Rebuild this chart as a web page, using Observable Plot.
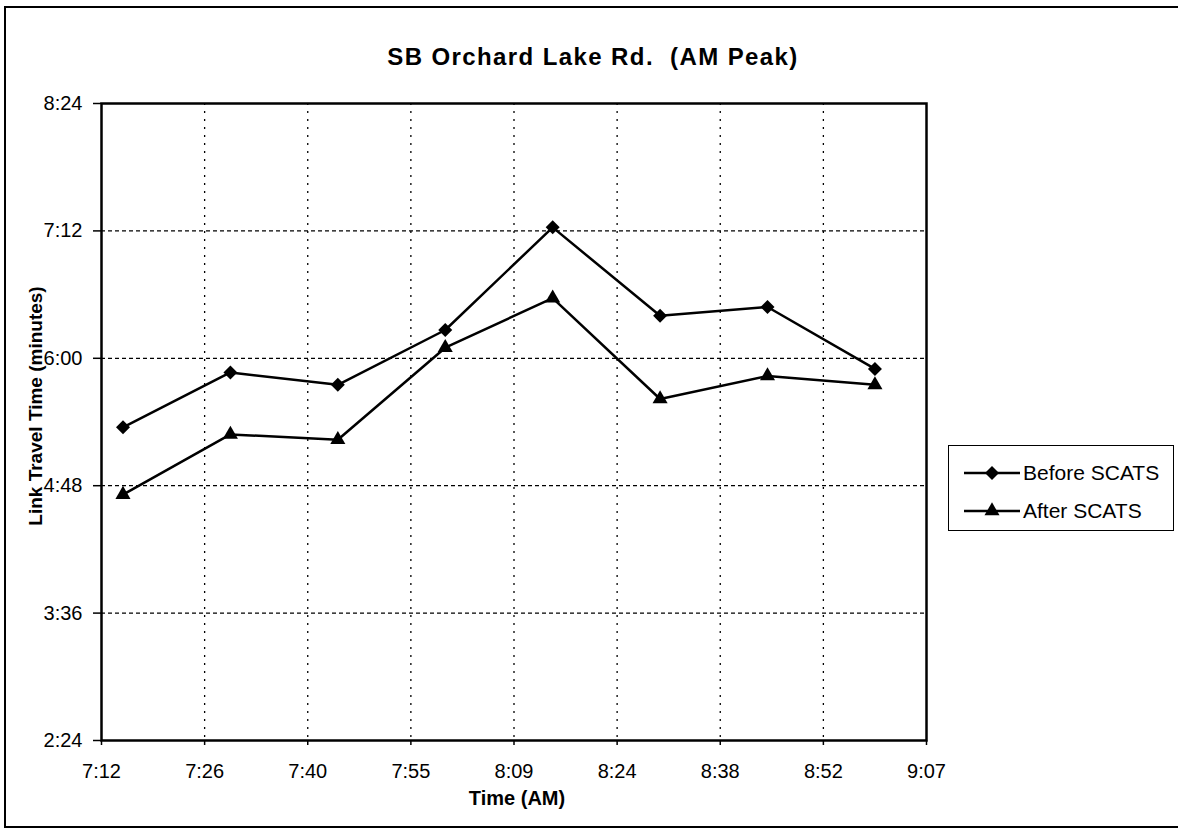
<!DOCTYPE html>
<html><head><meta charset="utf-8">
<script src="https://cdn.jsdelivr.net/npm/d3@7"></script>
<script src="https://cdn.jsdelivr.net/npm/@observablehq/plot@0.6"></script>
<style>
body{margin:0;background:#fff;overflow:hidden;font-family:Arial,"Liberation Sans",sans-serif;color:#000}
#wrap{position:relative;width:1178px;height:829px;overflow:hidden}
#border{position:absolute;left:4px;top:6px;width:1190px;height:822px;border:2px solid #000;box-sizing:border-box}
#title{position:absolute;left:0;width:1186px;top:45px;line-height:24px;text-align:center;font-weight:bold;font-size:24px;letter-spacing:1.4px;white-space:nowrap}
#ytitle{position:absolute;left:35px;top:406px;transform:translate(-50%,-50%) rotate(-90deg);font-weight:bold;font-size:19px;white-space:nowrap;line-height:19px}
#xtitle{position:absolute;left:517px;top:788px;transform:translateX(-50%);font-weight:bold;font-size:20px;line-height:20px;white-space:nowrap}
#legend{position:absolute;left:948px;top:445px;width:226px;height:86px;border:1.5px solid #000;box-sizing:border-box;background:#fff}
#legend svg{position:absolute;left:-1.5px;top:-1.5px}
#chart{position:absolute;left:0;top:0}
</style>
</head><body>
<div id="wrap">
  <div id="border"></div>
  <div id="chart"></div>
  <div id="title">SB Orchard Lake Rd.&nbsp; (AM Peak)</div>
  <div id="ytitle">Link Travel Time (minutes)</div>
  <div id="xtitle">Time (AM)</div>
  <div id="legend"></div>
</div>
<script>
// ---- data ----
const times = ["7:15","7:30","7:45","8:00","8:15","8:30","8:45","9:00"];
const beforeSCATS = ["5:21","5:52","5:45","6:16","7:14","6:24","6:29","5:54"];
const afterSCATS  = ["4:43","5:17","5:14","6:06","6:34","5:37","5:50","5:45"];
const seriesNames = ["Before SCATS","After SCATS"];
const seriesSymbols = ["diamond2","triangle"];
const xTickValues = [432, 446.4, 460.8, 475.2, 489.6, 504, 518.4, 532.8, 547.2]; // minutes after midnight
const xTickLabels = ["7:12","7:26","7:40","7:55","8:09","8:24","8:38","8:52","9:07"];
const yTickLabels = ["2:24","3:36","4:48","6:00","7:12","8:24"];

// ---- parsing ----
const clockToMin = s => { const [h,m] = s.split(":").map(Number); return h*60 + m; };
const msToMin = s => { const [m,sec] = s.split(":").map(Number); return m + sec/60; };
const yTickValues = yTickLabels.map(msToMin);

const data = [];
times.forEach((t,i) => {
  data.push({series: seriesNames[0], t: clockToMin(t), v: msToMin(beforeSCATS[i])});
  data.push({series: seriesNames[1], t: clockToMin(t), v: msToMin(afterSCATS[i])});
});

const xFmt = d => { const i = xTickValues.findIndex(v => Math.abs(v-d) < 1e-6); return i >= 0 ? xTickLabels[i] : ""; };
const yFmt = d => { const i = yTickValues.findIndex(v => Math.abs(v-d) < 1e-6); return i >= 0 ? yTickLabels[i] : ""; };

const chart = Plot.plot({
  width: 1178, height: 829,
  marginLeft: 101, marginRight: 252, marginTop: 103, marginBottom: 89,
  style: {fontFamily: "Arial, 'Liberation Sans', sans-serif", fontSize: "20px", color: "#000", background: "transparent"},
  x: {domain: [xTickValues[0], xTickValues[xTickValues.length-1]]},
  y: {domain: [yTickValues[0], yTickValues[yTickValues.length-1]]},
  symbol: {domain: seriesNames, range: seriesSymbols},
  marks: [
    Plot.ruleX(xTickValues.slice(1,-1), {stroke: "#000", strokeWidth: 1.3, strokeDasharray: "2,6"}),
    Plot.ruleY(yTickValues.slice(1,-1), {stroke: "#000", strokeWidth: 1.3, strokeDasharray: "4,3"}),
    Plot.axisX({ticks: xTickValues, tickFormat: xFmt, tickSize: 5, tickPadding: 18, label: null, fontSize: 20, strokeWidth: 1.5}),
    Plot.axisY({ticks: yTickValues, tickFormat: yFmt, tickSize: 8, tickPadding: 11, label: null, fontSize: 20, strokeWidth: 1.5}),
    Plot.line(data, {x: "t", y: "v", z: "series", stroke: "#000", strokeWidth: 2.5}),
    Plot.dot(data.filter(d => d.series === seriesNames[0]), {x: "t", y: "v", symbol: "series", fill: "#000", stroke: "none", r: 6.3}),
    Plot.dot(data.filter(d => d.series === seriesNames[1]), {x: "t", y: "v", symbol: "series", fill: "#000", stroke: "none", r: 5.6}),
    Plot.frame({stroke: "#000", strokeWidth: 2.5})
  ]
});
document.getElementById("chart").appendChild(chart);

// ---- legend ----
const lg = d3.select("#legend").append("svg").attr("width", 226).attr("height", 86);
const rowsY = [28, 66];
const sizes = [125, 98];
const syms = [d3.symbolDiamond2, d3.symbolTriangle];
seriesNames.forEach((name, i) => {
  const g = lg.append("g").attr("transform", `translate(0,${rowsY[i]})`);
  g.append("line").attr("x1", 16).attr("x2", 72).attr("stroke", "#000").attr("stroke-width", 2.5);
  g.append("path").attr("transform", "translate(44,0)").attr("d", d3.symbol(syms[i], sizes[i])()).attr("fill", "#000");
  g.append("text").attr("x", 75).attr("dy", "0.35em").attr("font-size", 21)
    .attr("font-family", "Arial, 'Liberation Sans', sans-serif").text(name);
});
</script>
</body></html>
